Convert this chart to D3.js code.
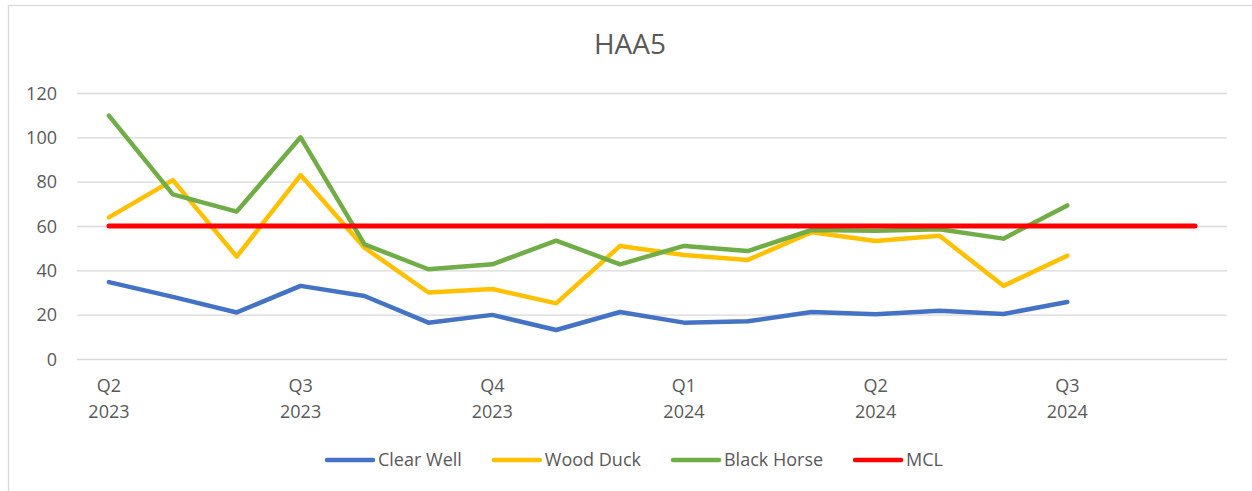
<!DOCTYPE html>
<html>
<head>
<meta charset="utf-8">
<script src="https://cdn.jsdelivr.net/npm/d3@7"></script>
<style>
  html, body { margin: 0; padding: 0; background: #fff; }
  svg { display: block; }
  text { font-family: "Open Sans", "Liberation Sans", sans-serif; fill: #595959; }
</style>
</head>
<body>
<svg id="chart" width="1252" height="491"></svg>
<script>
// ---- data ----
const title = "HAA5";
const periods = ["2023-04","2023-05","2023-06","2023-07","2023-08","2023-09","2023-10","2023-11","2023-12",
                 "2024-01","2024-02","2024-03","2024-04","2024-05","2024-06","2024-07","2024-08","2024-09"];
const tickLabels = [["Q2","2023"],["Q3","2023"],["Q4","2023"],["Q1","2024"],["Q2","2024"],["Q3","2024"]];
const tickIndices = [0, 3, 6, 9, 12, 15];
const clearWell  = [34.7, 28, 21, 33, 28.4, 16.4, 19.9, 13.1, 21.2, 16.4, 17, 21.2, 20.2, 21.8, 20.3, 25.7];
const woodDuck   = [63.9, 80.7, 46.2, 83, 50.2, 30, 31.6, 25.1, 51, 46.9, 44.7, 57.2, 53.2, 55.6, 33, 46.6];
const blackHorse = [109.8, 74.3, 66.5, 100, 51.7, 40.5, 42.7, 53.4, 42.7, 51, 48.7, 58.2, 57.9, 58.5, 54.3, 69.3];
const mcl        = [60, 60, 60, 60, 60, 60, 60, 60, 60, 60, 60, 60, 60, 60, 60, 60, 60, 60];
const yTicks = [0, 20, 40, 60, 80, 100, 120];
const seriesNames = ["Clear Well", "Wood Duck", "Black Horse", "MCL"];
const seriesColors = ["#4472C4", "#FFC000", "#70AD47", "#FF0000"];

const series = [
  { name: seriesNames[0], values: clearWell,  color: seriesColors[0] },
  { name: seriesNames[1], values: woodDuck,   color: seriesColors[1] },
  { name: seriesNames[2], values: blackHorse, color: seriesColors[2] },
  { name: seriesNames[3], values: mcl,        color: seriesColors[3] }
];

// ---- layout ----
const svg = d3.select("#chart");
const plot = { left: 77, right: 1227, top: 93, bottom: 359 };

// chart border (top & left visible, rest cropped)
svg.append("rect")
  .attr("x", 8.5).attr("y", 5.5)
  .attr("width", 1300).attr("height", 600)
  .attr("fill", "none").attr("stroke", "#d9d9d9").attr("stroke-width", 1.3);

const x = d3.scaleBand().domain(d3.range(periods.length)).range([plot.left, plot.right]);
const y = d3.scaleLinear().domain([0, 120]).range([plot.bottom, plot.top]);
const cx = i => x(i) + x.bandwidth() / 2;

// title
svg.append("text")
  .attr("x", 630).attr("y", 54)
  .attr("text-anchor", "middle")
  .style("font-size", "28px")
  .text(title);

// gridlines + y labels via axis
const yAxis = d3.axisLeft(y).tickValues(yTicks).tickSize(-(plot.right - plot.left)).tickPadding(20);
const yg = svg.append("g").attr("transform", `translate(${plot.left},0)`).call(yAxis);
yg.select(".domain").remove();
yg.selectAll(".tick line").attr("stroke", "#d9d9d9").attr("stroke-width", 1.3);
yg.selectAll(".tick text")
  .attr("fill", "#595959")
  .style("font-size", "18px")
  .style("font-family", "'Open Sans', sans-serif")
  .attr("dy", "0.35em");

// x labels
const xg = svg.append("g");
tickIndices.forEach((idx, k) => {
  const t = xg.append("text")
    .attr("x", cx(idx)).attr("y", 392)
    .attr("text-anchor", "middle")
    .style("font-size", "18px");
  t.append("tspan").attr("x", cx(idx)).attr("y", 392).text(tickLabels[k][0]);
  t.append("tspan").attr("x", cx(idx)).attr("y", 418).text(tickLabels[k][1]);
});

// lines
const line = d3.line().x((d, i) => cx(i)).y(d => y(d));
series.forEach(s => {
  svg.append("path")
    .datum(s.values)
    .attr("d", line)
    .attr("fill", "none")
    .attr("stroke", s.color)
    .attr("stroke-width", s.name === "MCL" ? 5 : 4.5)
    .attr("stroke-linejoin", "round")
    .attr("stroke-linecap", "round");
});

// legend
const lg = svg.append("g");
let cursor = 0;
const gap = 30;
series.forEach(s => {
  const g = lg.append("g").attr("transform", `translate(${cursor},0)`);
  g.append("line")
    .attr("x1", 2).attr("x2", 48).attr("y1", 0).attr("y2", 0)
    .attr("stroke", s.color).attr("stroke-width", 4.5).attr("stroke-linecap", "round");
  const t = g.append("text")
    .attr("x", 53).attr("y", 0).attr("dy", "0.35em")
    .style("font-size", "18px")
    .text(s.name);
  const w = t.node().getComputedTextLength();
  cursor += 53 + w + gap;
});
const totalW = cursor - gap;
lg.attr("transform", `translate(${634 - totalW / 2},460)`);
</script>
</body>
</html>
